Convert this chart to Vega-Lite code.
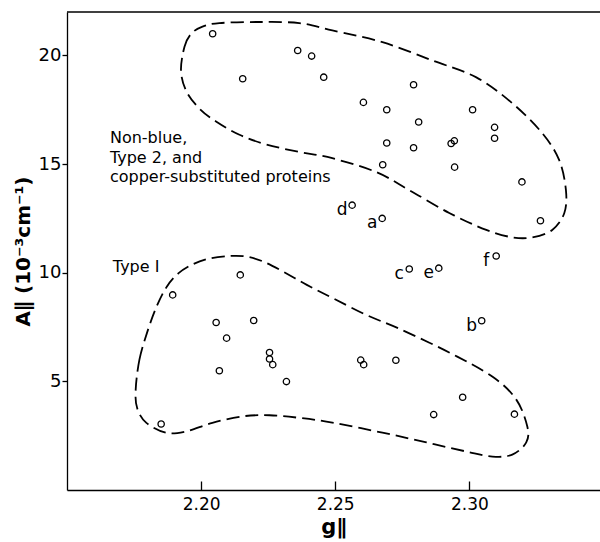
{
  "$schema": "https://vega.github.io/schema/vega-lite/v6.json",
  "width": 533,
  "height": 478,
  "autosize": {"type": "none"},
  "padding": {"left": 67, "top": 12, "right": 0, "bottom": 52},
  "background": "white",
  "config": {"view": {"stroke": null}, "font": "DejaVu Sans"},
  "datasets": {
    "points": [
      {"g": 2.2043, "A": 21.0}, {"g": 2.2360, "A": 20.23}, {"g": 2.2412, "A": 19.97},
      {"g": 2.2155, "A": 18.93}, {"g": 2.2457, "A": 19.0}, {"g": 2.2792, "A": 18.65},
      {"g": 2.2605, "A": 17.84}, {"g": 2.2692, "A": 17.50}, {"g": 2.3012, "A": 17.50},
      {"g": 2.2811, "A": 16.94}, {"g": 2.3094, "A": 16.69}, {"g": 2.3094, "A": 16.19},
      {"g": 2.2692, "A": 15.97}, {"g": 2.2792, "A": 15.75}, {"g": 2.2932, "A": 15.95},
      {"g": 2.2944, "A": 16.07}, {"g": 2.2677, "A": 14.97}, {"g": 2.2945, "A": 14.86},
      {"g": 2.3196, "A": 14.18}, {"g": 2.3265, "A": 12.39},
      {"g": 2.2563, "A": 13.11, "label": "d"}, {"g": 2.2675, "A": 12.50, "label": "a"},
      {"g": 2.2776, "A": 10.17, "label": "c"}, {"g": 2.2886, "A": 10.21, "label": "e"},
      {"g": 2.3100, "A": 10.77, "label": "f"}, {"g": 2.3046, "A": 7.79, "label": "b"},
      {"g": 2.2146, "A": 9.90}, {"g": 2.1894, "A": 8.98}, {"g": 2.2056, "A": 7.71},
      {"g": 2.2196, "A": 7.80}, {"g": 2.2095, "A": 6.99}, {"g": 2.2255, "A": 6.33},
      {"g": 2.2255, "A": 6.03}, {"g": 2.2267, "A": 5.77}, {"g": 2.2068, "A": 5.49},
      {"g": 2.1851, "A": 3.04}, {"g": 2.2318, "A": 4.99}, {"g": 2.2595, "A": 5.98},
      {"g": 2.2606, "A": 5.77}, {"g": 2.2726, "A": 5.97}, {"g": 2.2975, "A": 4.27},
      {"g": 2.2867, "A": 3.47}, {"g": 2.3168, "A": 3.49}
    ],
    "curves": [
      {"group": "upper", "order": 1, "g": 2.1925, "A": 19.30},
      {"group": "upper", "order": 2, "g": 2.1938, "A": 20.40},
      {"group": "upper", "order": 3, "g": 2.1963, "A": 21.0},
      {"group": "upper", "order": 4, "g": 2.2005, "A": 21.33},
      {"group": "upper", "order": 5, "g": 2.2068, "A": 21.49},
      {"group": "upper", "order": 6, "g": 2.2217, "A": 21.54},
      {"group": "upper", "order": 7, "g": 2.2366, "A": 21.49},
      {"group": "upper", "order": 8, "g": 2.2489, "A": 21.15},
      {"group": "upper", "order": 9, "g": 2.2676, "A": 20.61},
      {"group": "upper", "order": 10, "g": 2.2862, "A": 19.77},
      {"group": "upper", "order": 11, "g": 2.3026, "A": 18.99},
      {"group": "upper", "order": 12, "g": 2.3160, "A": 17.80},
      {"group": "upper", "order": 13, "g": 2.3272, "A": 16.42},
      {"group": "upper", "order": 14, "g": 2.3335, "A": 15.18},
      {"group": "upper", "order": 15, "g": 2.3360, "A": 13.80},
      {"group": "upper", "order": 16, "g": 2.3354, "A": 12.75},
      {"group": "upper", "order": 17, "g": 2.3309, "A": 11.97},
      {"group": "upper", "order": 18, "g": 2.3235, "A": 11.63},
      {"group": "upper", "order": 19, "g": 2.3160, "A": 11.63},
      {"group": "upper", "order": 20, "g": 2.3063, "A": 11.97},
      {"group": "upper", "order": 21, "g": 2.2925, "A": 12.75},
      {"group": "upper", "order": 22, "g": 2.2776, "A": 13.80},
      {"group": "upper", "order": 23, "g": 2.2653, "A": 14.63},
      {"group": "upper", "order": 24, "g": 2.2489, "A": 15.27},
      {"group": "upper", "order": 25, "g": 2.2366, "A": 15.56},
      {"group": "upper", "order": 26, "g": 2.2243, "A": 15.90},
      {"group": "upper", "order": 27, "g": 2.2143, "A": 16.35},
      {"group": "upper", "order": 28, "g": 2.2057, "A": 16.95},
      {"group": "upper", "order": 29, "g": 2.1994, "A": 17.55},
      {"group": "upper", "order": 30, "g": 2.1945, "A": 18.35},
      {"group": "lower", "order": 1, "g": 2.1756, "A": 4.60},
      {"group": "lower", "order": 2, "g": 2.1770, "A": 6.00},
      {"group": "lower", "order": 3, "g": 2.1800, "A": 7.30},
      {"group": "lower", "order": 4, "g": 2.1834, "A": 8.44},
      {"group": "lower", "order": 5, "g": 2.1872, "A": 9.36},
      {"group": "lower", "order": 6, "g": 2.1915, "A": 9.97},
      {"group": "lower", "order": 7, "g": 2.1971, "A": 10.40},
      {"group": "lower", "order": 8, "g": 2.2033, "A": 10.66},
      {"group": "lower", "order": 9, "g": 2.2108, "A": 10.77},
      {"group": "lower", "order": 10, "g": 2.2170, "A": 10.74},
      {"group": "lower", "order": 11, "g": 2.2232, "A": 10.51},
      {"group": "lower", "order": 12, "g": 2.2306, "A": 10.05},
      {"group": "lower", "order": 13, "g": 2.2394, "A": 9.44},
      {"group": "lower", "order": 14, "g": 2.2493, "A": 8.82},
      {"group": "lower", "order": 15, "g": 2.2617, "A": 8.05},
      {"group": "lower", "order": 16, "g": 2.2741, "A": 7.41},
      {"group": "lower", "order": 17, "g": 2.2928, "A": 6.31},
      {"group": "lower", "order": 18, "g": 2.3088, "A": 5.20},
      {"group": "lower", "order": 19, "g": 2.3175, "A": 4.16},
      {"group": "lower", "order": 20, "g": 2.3216, "A": 2.92},
      {"group": "lower", "order": 21, "g": 2.3212, "A": 2.19},
      {"group": "lower", "order": 22, "g": 2.3160, "A": 1.63},
      {"group": "lower", "order": 23, "g": 2.3086, "A": 1.54},
      {"group": "lower", "order": 24, "g": 2.2989, "A": 1.77},
      {"group": "lower", "order": 25, "g": 2.2840, "A": 2.19},
      {"group": "lower", "order": 26, "g": 2.2676, "A": 2.64},
      {"group": "lower", "order": 27, "g": 2.2489, "A": 3.10},
      {"group": "lower", "order": 28, "g": 2.2366, "A": 3.32},
      {"group": "lower", "order": 29, "g": 2.2255, "A": 3.44},
      {"group": "lower", "order": 30, "g": 2.2154, "A": 3.39},
      {"group": "lower", "order": 31, "g": 2.2042, "A": 3.09},
      {"group": "lower", "order": 32, "g": 2.1945, "A": 2.70},
      {"group": "lower", "order": 33, "g": 2.1871, "A": 2.63},
      {"group": "lower", "order": 34, "g": 2.1796, "A": 3.09},
      {"group": "lower", "order": 35, "g": 2.1762, "A": 3.75}
    ],
    "notes": [
      {"text": "Non-blue,\nType 2, and\ncopper-substituted proteins", "g": 2.1660, "A": 15.97},
      {"text": "Type I", "g": 2.1671, "A": 10.03}
    ]
  },
  "layer": [
    {
      "data": {"name": "points"},
      "mark": {"type": "point", "shape": "circle", "filled": false, "color": "black", "size": 40, "strokeWidth": 1.3, "opacity": 1},
      "encoding": {
        "x": {"field": "g", "type": "quantitative",
          "scale": {"domain": [2.15, 2.3487], "nice": false, "zero": false},
          "axis": {"title": "g∥", "values": [2.2, 2.25, 2.3], "format": ".2f", "grid": false,
            "tickSize": -9, "tickColor": "black", "tickWidth": 1.3, "domainColor": "black", "domainWidth": 1.5,
            "labelFont": "DejaVu Sans", "labelFontSize": 17, "labelColor": "black", "labelPadding": 15,
            "titleFont": "DejaVu Sans", "titleFontSize": 21, "titleFontWeight": "bold", "titleColor": "black", "titlePadding": 4}},
        "y": {"field": "A", "type": "quantitative",
          "scale": {"domain": [0, 22], "nice": false, "zero": false},
          "axis": {"title": "A∥ (10⁻³cm⁻¹)", "values": [5, 10, 15, 20], "format": "d", "grid": false,
            "tickSize": 5, "tickColor": "black", "tickWidth": 1.3, "domainColor": "black", "domainWidth": 1.3,
            "labelFont": "DejaVu Sans", "labelFontSize": 18, "labelColor": "black", "labelPadding": 1,
            "titleFont": "DejaVu Sans", "titleFontSize": 20, "titleFontWeight": "bold", "titleColor": "black", "titlePadding": 5}}
      }
    },
    {
      "data": {"name": "curves"},
      "mark": {"type": "line", "interpolate": "cardinal-closed", "color": "black", "strokeWidth": 1.8, "strokeDash": [13, 6]},
      "encoding": {
        "x": {"field": "g", "type": "quantitative"},
        "y": {"field": "A", "type": "quantitative"},
        "detail": {"field": "group"},
        "order": {"field": "order", "type": "quantitative"}
      }
    },
    {
      "data": {"name": "points"},
      "transform": [{"filter": "isValid(datum.label)"}],
      "mark": {"type": "text", "font": "DejaVu Sans", "fontSize": 17, "color": "black", "dx": -10, "dy": 5, "align": "center", "baseline": "middle"},
      "encoding": {
        "x": {"field": "g", "type": "quantitative"},
        "y": {"field": "A", "type": "quantitative"},
        "text": {"field": "label"}
      }
    },
    {
      "data": {"name": "notes"},
      "mark": {"type": "text", "font": "DejaVu Sans", "fontSize": 16, "color": "black", "align": "left", "baseline": "alphabetic", "lineBreak": "\n", "lineHeight": 19.5},
      "encoding": {
        "x": {"field": "g", "type": "quantitative"},
        "y": {"field": "A", "type": "quantitative"},
        "text": {"field": "text"}
      }
    },
    {
      "data": {"values": [{}]},
      "mark": {"type": "rule", "color": "black", "strokeWidth": 1.5},
      "encoding": {"y": {"datum": 22, "type": "quantitative"}}
    }
  ]
}
